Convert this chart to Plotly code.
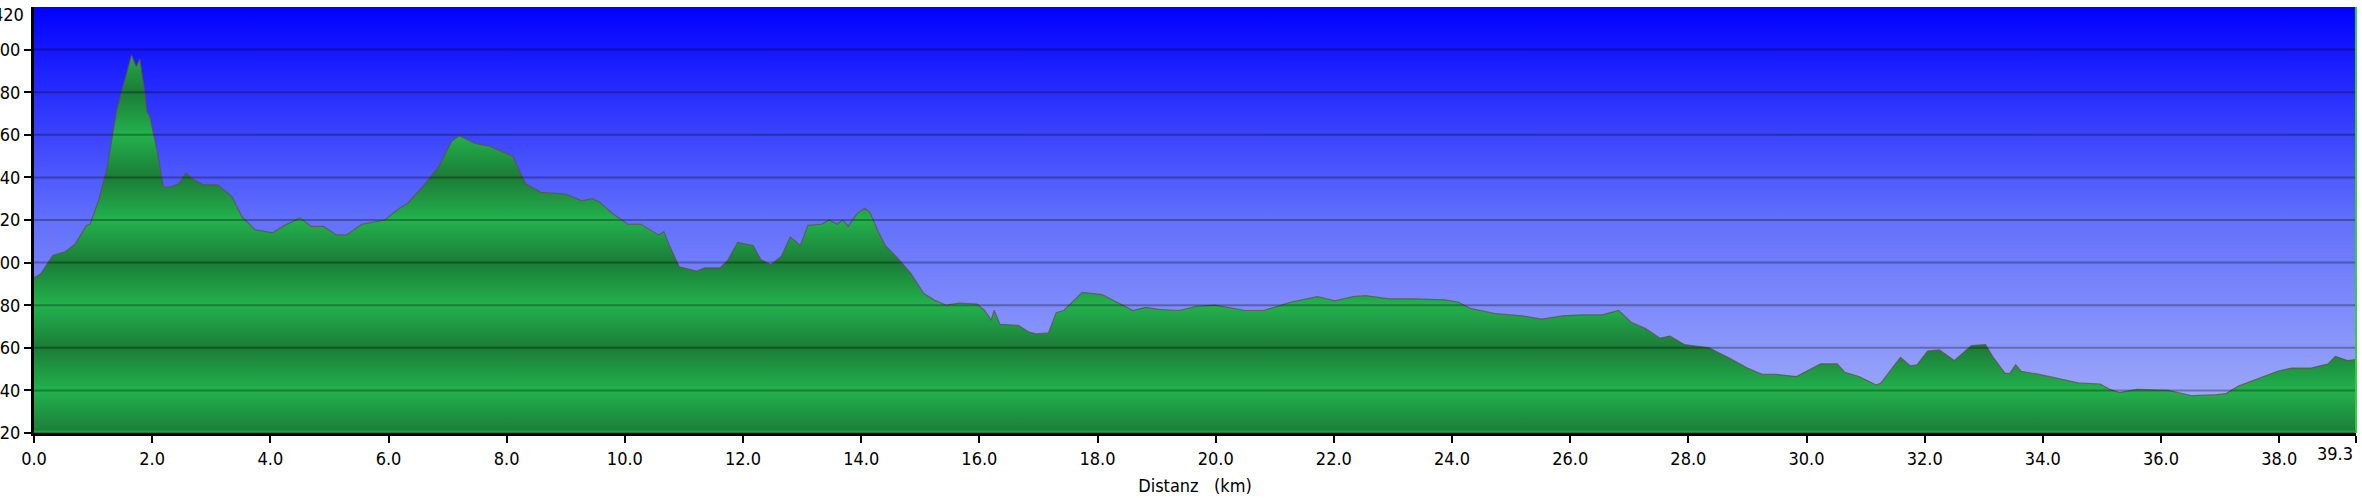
import plotly.graph_objects as go

# ---- data ----
distance_km = [
    0.0, 0.05, 0.12, 0.32, 0.52, 0.69, 0.89, 0.95, 1.09, 1.23, 1.4, 1.49, 1.57, 1.65,
    1.73, 1.79, 1.87, 1.91, 1.96, 2.08, 2.19, 2.31, 2.45, 2.57, 2.7, 2.87, 3.11, 3.35,
    3.52, 3.74, 4.04, 4.21, 4.5, 4.69, 4.9, 5.12, 5.29, 5.55, 5.94, 6.16, 6.33, 6.59,
    6.85, 7.07, 7.2, 7.46, 7.72, 7.94, 8.1, 8.32, 8.58, 8.84, 9.01, 9.27, 9.45, 9.57,
    9.79, 10.05, 10.27, 10.57, 10.66, 10.74, 10.92, 11.22, 11.35, 11.61, 11.74, 11.91,
    12.17, 12.3, 12.47, 12.65, 12.8, 12.97,
    13.1, 13.33, 13.46, 13.59, 13.69, 13.78, 13.93, 14.06, 14.15, 14.28, 14.41, 14.62,
    14.84, 15.06, 15.23, 15.44, 15.66, 15.96, 16.09, 16.2, 16.25, 16.35, 16.66, 16.83,
    16.96, 17.17, 17.3, 17.43, 17.56, 17.74, 18.08, 18.26, 18.6, 18.82, 19.03, 19.38,
    19.68, 19.99, 20.33, 20.5, 20.81, 21.28, 21.72, 22.02, 22.32, 22.54, 22.93, 23.36,
    23.88, 24.1, 24.31, 24.75, 25.18, 25.52, 25.87, 26.21, 26.54,
    26.82, 27.03, 27.28, 27.52, 27.69, 27.93, 28.35, 28.67, 29.0, 29.25, 29.5, 29.83,
    30.07, 30.24, 30.52, 30.65, 30.89, 31.18, 31.26, 31.59, 31.76, 31.87, 32.05, 32.25,
    32.5, 32.79, 33.03, 33.16, 33.36, 33.44, 33.54, 33.63, 33.94, 34.27, 34.6, 34.97,
    35.13, 35.3, 35.59, 36.12, 36.53, 36.94, 37.1, 37.31, 37.64, 37.97, 38.21, 38.54,
    38.83, 38.95, 39.16, 39.3,
]
elevation_m = [
    293, 293.5, 295, 303.5, 305, 308.5, 317.5, 318, 329, 343.5, 371.5, 381, 389.5, 397.5,
    392, 395.5, 381, 371, 368.5, 353, 335.5, 335.5, 337, 342, 339, 336.5, 336.5, 331,
    321.5, 315.5, 314, 317, 321, 317, 317, 313, 313, 318, 320, 325, 328, 336,
    345, 357, 359.5, 356, 354.5, 352, 350, 337, 333, 332.5, 332, 329, 330, 328.5,
    323, 318, 318, 313, 314.5, 309, 298, 296, 297.5, 297.5, 301, 309.5,
    308, 301.5, 299, 303, 312, 308,
    317.5, 318, 320, 318, 320, 317, 323, 325.5, 323.5, 315, 308, 302,
    295, 285.5, 282.5, 280, 281, 280.5, 277.5, 273, 277.5, 271, 270.5, 267.5,
    266.5, 267, 276.5, 277.5, 281, 286, 285, 282.5, 277.5, 279, 278, 277.5,
    279.5, 280, 278.5, 277.5, 277.5, 281.5, 284, 282, 284, 284.5, 283, 283,
    282.5, 281.5, 278.5, 276, 275, 273.5, 275, 275.5, 275.5,
    277.5, 272, 269, 264.5, 265.5, 261.5, 260, 255.5, 250.5, 247.5, 247.5, 246.5,
    250, 252.5, 252.5, 248.5, 246.5, 242.5, 243.5, 255.5, 251.5, 252, 258.5, 259,
    254, 261, 261.5, 255.5, 248, 248, 252, 249, 247.5, 245.5, 243.5, 243,
    240.5, 239, 240.5, 240, 237.5, 238, 238.5, 242, 245.5, 249, 250.5, 250.5,
    252.5, 256, 254, 254.5,
]

x_tick_vals = [0, 2, 4, 6, 8, 10, 12, 14, 16, 18, 20, 22, 24, 26, 28, 30, 32, 34, 36, 38, 39.3]
x_tick_text = ["0.0", "2.0", "4.0", "6.0", "8.0", "10.0", "12.0", "14.0", "16.0", "18.0",
               "20.0", "22.0", "24.0", "26.0", "28.0", "30.0", "32.0", "34.0", "36.0",
               "38.0", "39.3"]
y_tick_vals = [220, 240, 260, 280, 300, 320, 340, 360, 380, 400]
y_top_label = "420"
X_MIN, X_MAX = 0, 39.3
Y_MIN, Y_MAX = 220, 420

FONT = "Tahoma, 'DejaVu Sans Condensed', 'Liberation Sans', sans-serif"

fig = go.Figure()

# sky gradient background
fig.add_trace(go.Scatter(
    x=[X_MIN, X_MAX, X_MAX, X_MIN, X_MIN], y=[Y_MIN, Y_MIN, Y_MAX, Y_MAX, Y_MIN],
    mode="none", fill="toself",
    fillgradient=dict(type="vertical", start=Y_MIN, stop=Y_MAX,
                      colorscale=[[0, "#a6b2f8"], [0.5, "#6270fc"], [1, "#0000ff"]]),
    hoverinfo="skip", showlegend=False,
))

# banded green terrain gradient
dark, light = "#1b7c37", "#23b24d"
n = 10
bands = [[i / n, dark if i % 2 == 0 else light] for i in range(n + 1)]

fig.add_trace(go.Scatter(
    x=distance_km, y=elevation_m, mode="lines",
    line=dict(color="rgba(100,78,78,0.75)", width=1.2),
    fill="tozeroy",
    fillgradient=dict(type="vertical", start=Y_MIN, stop=Y_MAX, colorscale=bands),
    hoverinfo="skip", showlegend=False,
))

shapes = []
for v in y_tick_vals[1:]:
    shapes.append(dict(type="line", xref="paper", x0=0, x1=1, yref="y", y0=v, y1=v,
                       line=dict(color="rgba(0,0,0,0.3)", width=2), layer="above"))
shapes.append(dict(type="line", xref="paper", x0=1, x1=1, yref="paper", y0=0, y1=1,
                   line=dict(color="#2fd03a", width=2), layer="above"))
shapes.append(dict(type="line", xref="paper", x0=0, x1=1, yref="paper", y0=0.004, y1=0.004,
                   line=dict(color="#1fa03a", width=1.5), layer="above"))

fig.update_layout(
    width=2362, height=498,
    margin=dict(l=34, r=6, t=7, b=65),
    paper_bgcolor="white", plot_bgcolor="white",
    template="none",
    font=dict(family=FONT, size=18, color="black"),
    shapes=shapes,
    annotations=[
        dict(text=y_top_label, xref="paper", x=0, xanchor="right", xshift=-8,
             yref="y", y=Y_MAX, yanchor="middle", yshift=-7, showarrow=False,
             font=dict(family=FONT, size=18, color="black")),
        dict(text=x_tick_text[-1], xref="x", x=x_tick_vals[-1], xanchor="right", xshift=-1,
             yref="paper", y=0, yanchor="middle", yshift=-20, showarrow=False,
             font=dict(family=FONT, size=18, color="black")),
    ],
    xaxis=dict(range=[X_MIN, X_MAX], tickvals=x_tick_vals,
               ticktext=x_tick_text[:-1] + [""],
               ticks="outside", ticklen=7, tickwidth=2, tickcolor="black",
               showline=True, linecolor="black", linewidth=3, showgrid=False,
               zeroline=False, automargin=False, layer="above traces",
               ticklabeloverflow="allow",
               title=dict(text="Distanz\u00a0\u00a0\u00a0(km)", standoff=12,
                          font=dict(family=FONT, size=18))),
    yaxis=dict(range=[Y_MIN, Y_MAX], tickvals=y_tick_vals,
               ticktext=[str(v) for v in y_tick_vals],
               ticks="outside", ticklen=7, tickwidth=2, tickcolor="black",
               showline=True, linecolor="black", linewidth=3, showgrid=False,
               zeroline=False, automargin=False, layer="above traces",
               ticklabeloverflow="allow"),
)

fig.write_html("out.html", config={"displayModeBar": False},
               post_script="document.body.style.margin='0px';")
